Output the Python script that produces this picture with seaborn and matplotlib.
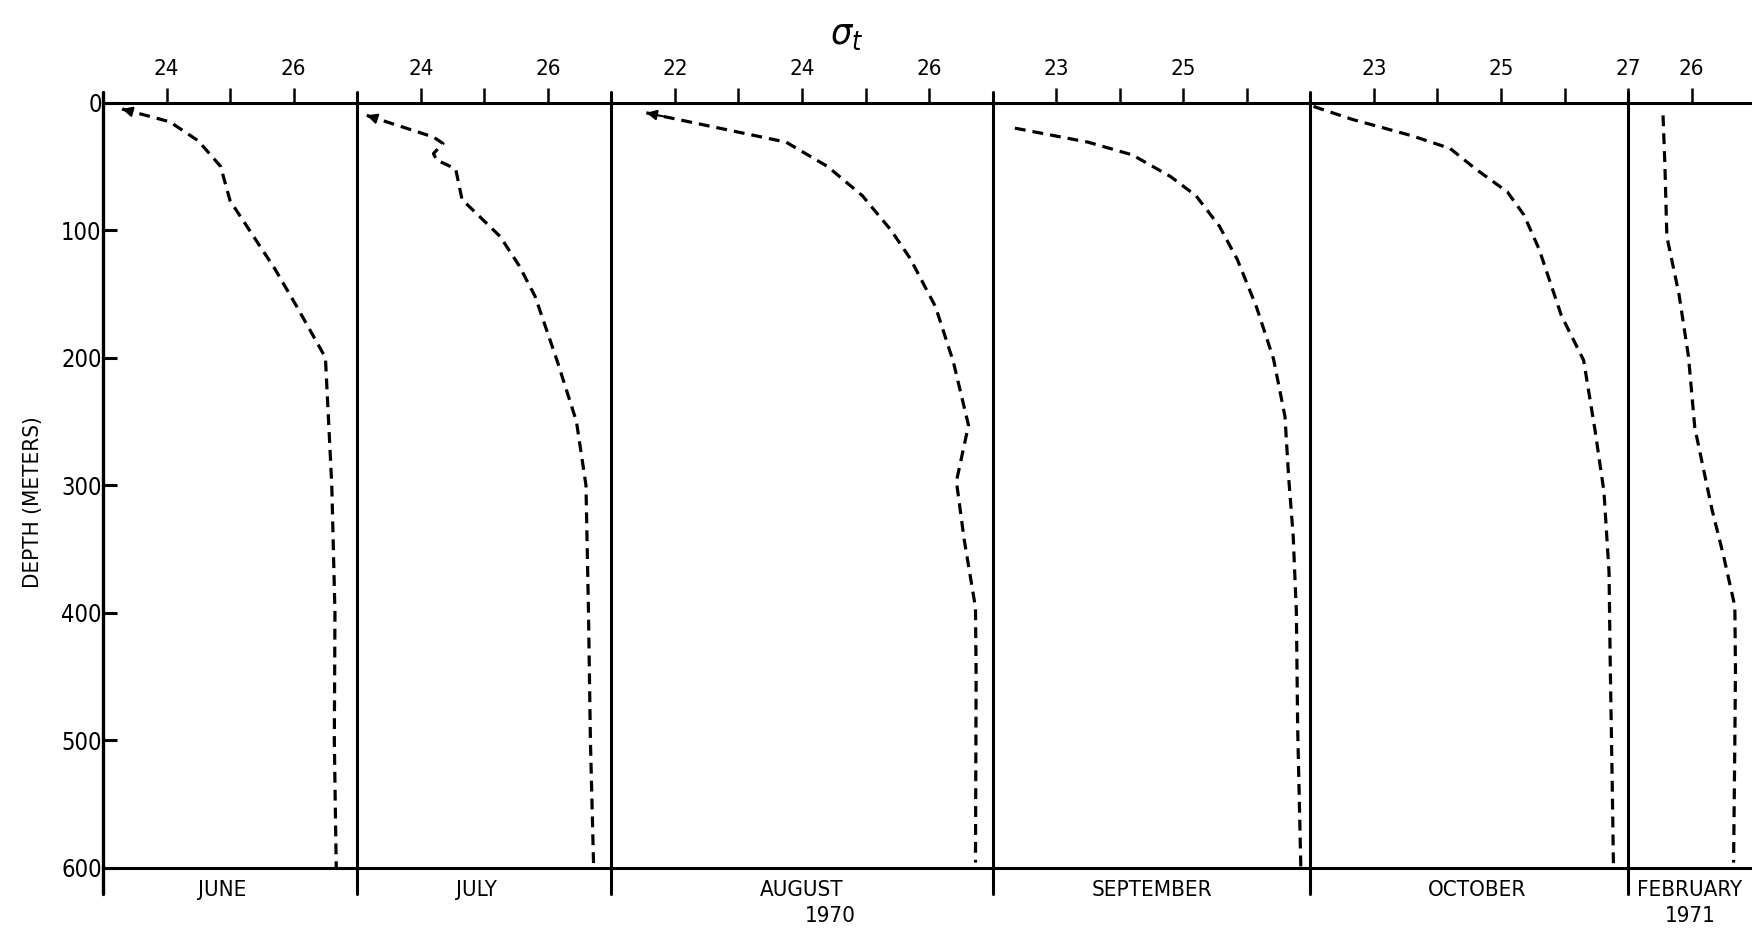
import matplotlib
matplotlib.use('Agg')
import matplotlib.pyplot as plt
import seaborn as sns
from matplotlib import font_manager

# Set Seaborn style
sns.set_theme(style='white')

names = {f.name for f in font_manager.fontManager.ttflist}
fams = [n for n in ['Liberation Sans Narrow', 'DejaVu Sans'] if n in names]
plt.rcParams['font.family'] = fams + ['DejaVu Sans']
plt.rcParams['font.stretch'] = 'condensed'
plt.rcParams['text.color'] = 'black'

# 1. Data: sigma-t profiles, one panel per month
months = ['JUNE', 'JULY', 'AUGUST', 'SEPTEMBER', 'OCTOBER', 'FEBRUARY']
years = {'AUGUST': '1970', 'FEBRUARY': '1971'}
x_limits = [(23, 27), (23, 27), (21, 27), (22, 27), (22, 27), (25, 26.95)]
x_ticks = [[24, 25, 26], [24, 25, 26], [22, 23, 24, 25, 26],
           [23, 24, 25, 26], [23, 24, 25, 26, 27], [26]]
x_ticklabels = [['24', '', '26'], ['24', '', '26'], ['22', '', '24', '', '26'],
                ['23', '', '25', ''], ['23', '', '25', '', '27'], ['26']]
depth_ticks = [0, 100, 200, 300, 400, 500, 600]

june_sigma = [23.3, 24.05, 24.5, 24.85, 25.0, 25.7, 26.05, 26.5, 26.6, 26.65, 26.64, 26.67]
june_depth = [5, 15, 30, 50, 77, 130, 160, 200, 300, 400, 500, 600]

july_sigma = [23.15, 24.2, 24.35, 24.2, 24.25, 24.55, 24.65, 25.25, 25.55, 25.8, 26.15,
              26.45, 26.6, 26.64, 26.67, 26.72]
july_depth = [10, 27, 32, 40, 45, 52, 76, 105, 128, 152, 203, 250, 300, 400, 500, 598]

aug_sigma = [21.55, 23.75, 24.4, 24.95, 25.4, 25.7, 26.1, 26.38, 26.62, 26.43, 26.55,
             26.73, 26.74, 26.73]
aug_depth = [8, 31, 50, 73, 100, 122, 160, 203, 253, 297, 342, 396, 450, 596]

sep_sigma = [22.35, 23.5, 24.2, 24.8, 25.2, 25.57, 25.85, 26.15, 26.42, 26.6, 26.66,
             26.73, 26.78, 26.8, 26.85]
sep_depth = [20, 31, 41, 58, 73, 97, 123, 160, 201, 246, 295, 340, 400, 490, 600]

oct_sigma = [22.05, 22.65, 23.6, 24.2, 24.6, 25.1, 25.36, 25.6, 25.95, 26.3, 26.48,
             26.62, 26.7, 26.72, 26.75, 26.77]
oct_depth = [3, 13, 26, 36, 52, 70, 88, 115, 167, 202, 257, 305, 368, 443, 533, 600]

feb_sigma = [25.55, 25.58, 25.61, 25.8, 25.95, 26.05, 26.32, 26.5, 26.68, 26.69, 26.68, 26.66]
feb_depth = [10, 50, 105, 150, 199, 255, 319, 355, 395, 445, 500, 596]

profiles = [(june_sigma, june_depth), (july_sigma, july_depth), (aug_sigma, aug_depth),
            (sep_sigma, sep_depth), (oct_sigma, oct_depth), (feb_sigma, feb_depth)]
has_arrow = [True, True, True, False, False, False]

# 2. Figure
spans = [hi - lo for lo, hi in x_limits]
fig, axes = plt.subplots(1, 6, figsize=(17.52, 9.33), dpi=100,
                         gridspec_kw=dict(width_ratios=spans, wspace=0))
fig.subplots_adjust(left=0.0588, right=1.0, top=0.89, bottom=0.07)

for i, ax in enumerate(axes):
    ax.set_facecolor('none')
    sig, dep = profiles[i]
    sns.lineplot(x=sig, y=dep, orient='y', sort=False, estimator=None,
                 color='black', lw=2.3, ax=ax)
    ax.lines[-1].set_dashes((3.4, 2.2))
    if has_arrow[i]:
        tip = (sig[0], dep[0])
        base = (sig[0] + 0.12 * (sig[1] - sig[0]), dep[0] + 0.12 * (dep[1] - dep[0]))
        ax.annotate('', xy=tip, xytext=base,
                    arrowprops=dict(arrowstyle='-|>', color='black', lw=1.5,
                                    mutation_scale=15, shrinkA=0, shrinkB=0))

    ax.set_xlim(*x_limits[i])
    ax.set_ylim(600, 0)
    ax.xaxis.tick_top()
    ax.set_xticks(x_ticks[i])
    ax.set_xticklabels(x_ticklabels[i])
    ax.tick_params(axis='x', direction='out', length=11, width=1.8, pad=6,
                   labelsize=16, colors='black', top=True, bottom=False)
    ax.set_xlabel('')
    ax.set_ylabel('')

    for side in ['left', 'right']:
        ax.spines[side].set_visible(False)
    for side in ['top', 'bottom']:
        ax.spines[side].set_visible(True)
        ax.spines[side].set_linewidth(2.2)
        ax.spines[side].set_color('black')

    # panel dividers extending past the frame
    if i < 5:
        ax.axvline(x_limits[i][1], ymin=-0.035, ymax=1.014, color='black',
                   lw=2.2, clip_on=False, zorder=5)
    if i == 0:
        ax.axvline(x_limits[i][0], ymin=-0.035, ymax=1.014, color='black',
                   lw=2.4, clip_on=False, zorder=5)
        ax.set_yticks(depth_ticks)
        ax.set_yticklabels([str(d) for d in depth_ticks])
        ax.tick_params(axis='y', direction='in', length=10, width=2.2, pad=1,
                       labelsize=17, colors='black', left=True)
    else:
        ax.set_yticks([])

    # month labels
    name = months[i]
    if name == 'FEBRUARY':
        ax.text(0.07, -0.016, name, transform=ax.transAxes, ha='left', va='top', fontsize=16)
        ax.text(0.3, -0.05, years[name], transform=ax.transAxes, ha='left', va='top', fontsize=16)
    else:
        xc = {'JUNE': 0.47, 'JULY': 0.47, 'AUGUST': 0.5, 'SEPTEMBER': 0.5, 'OCTOBER': 0.525}[name]
        ax.text(xc, -0.016, name, transform=ax.transAxes, ha='center', va='top', fontsize=16)
        if name in years:
            ax.text(0.575, -0.05, years[name], transform=ax.transAxes, ha='center',
                    va='top', fontsize=16)

fig.text(0.483, 0.963, r'$\sigma_t$', fontsize=27, ha='center', va='center')
fig.text(0.019, 0.462, 'DEPTH (METERS)', rotation=90, fontsize=16, ha='center', va='center')

plt.savefig('out.png', dpi=100, facecolor='white')
